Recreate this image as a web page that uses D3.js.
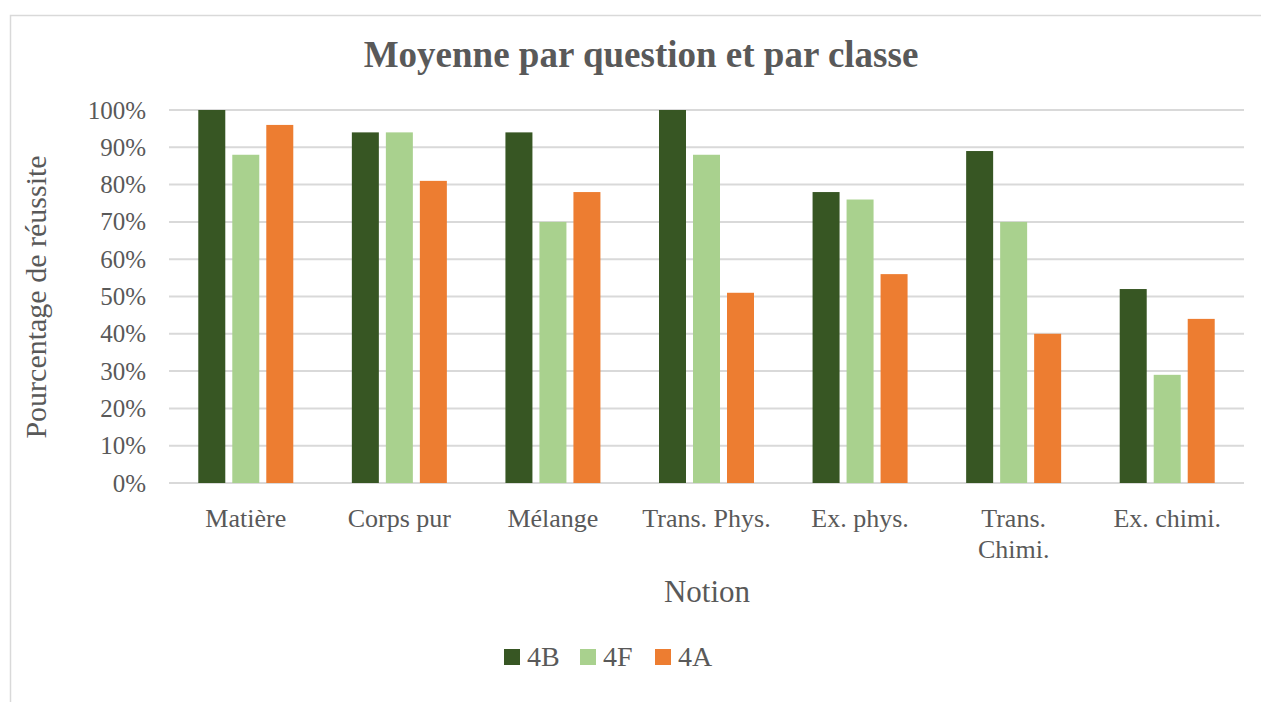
<!DOCTYPE html>
<html>
<head>
<meta charset="utf-8">
<script src="https://cdn.jsdelivr.net/npm/d3@7"></script>
<style>
  body { margin: 0; background: #fff; }
  svg text { font-family: "Liberation Serif", "DejaVu Serif", serif !important; fill: #595959; }
</style>
</head>
<body>
<div id="chart"></div>
<script>
// chart data
var categories = ['Matière', 'Corps pur', 'Mélange', 'Trans. Phys.', 'Ex. phys.', 'Trans. Chimi.', 'Ex. chimi.'];
var series = ['4B', '4F', '4A'];
var values_4B = [100, 94, 94, 100, 78, 89, 52];
var values_4F = [88, 94, 70, 88, 76, 70, 29];
var values_4A = [96, 81, 78, 51, 56, 40, 44];
var y_ticks = [0, 10, 20, 30, 40, 50, 60, 70, 80, 90, 100];
var colors = ['#375623', '#a9d18e', '#ed7d31'];

const width = 1261
const height = 702
const plot_left = 169
const plot_right = 1244
const plot_top = 110
const plot_bottom = 483

var svg = d3.select('#chart').append('svg')
  .attr('width', width)
  .attr('height', height);

// chart frame (cut by the picture edge)
svg.append('rect')
  .attr('x', 10.5)
  .attr('y', 15.5)
  .attr('width', 1300)
  .attr('height', 800)
  .attr('fill', 'none')
  .attr('stroke', '#d9d9d9')
  .attr('stroke-width', 1.5);

var x = d3.scaleBand()
  .domain(categories)
  .range([plot_left, plot_right]);

var bar_width = 27
var bar_gap = 7
var step = bar_width + bar_gap
var xs = d3.scaleBand()
  .domain(series)
  .range([-1.5 * step, 1.5 * step]);

var y = d3.scaleLinear()
  .domain([0, 100])
  .range([plot_bottom, plot_top]);

// gridlines
svg.append('g')
  .selectAll('line')
  .data(y_ticks)
  .enter()
  .append('line')
  .attr('x1', plot_left)
  .attr('x2', plot_right)
  .attr('y1', function(d){ return y(d); })
  .attr('y2', function(d){ return y(d); })
  .attr('stroke', '#d9d9d9')
  .attr('stroke-width', 2);

// y axis labels
var y_axis = d3.axisLeft(y)
  .tickValues(y_ticks)
  .tickFormat(function(d){ return d + '%'; })
  .tickSize(0)
  .tickPadding(23);

svg.append('g')
  .attr('transform', `translate(${plot_left},0)`)
  .call(y_axis)
  .call(function(g){ g.select('.domain').remove(); })
  .selectAll('text')
  .style('font-size', '25px')
  .attr('fill', '#595959');

// bars
var table = [values_4B, values_4F, values_4A];
series.forEach(function(s, si){
  svg.append('g')
    .selectAll('rect')
    .data(table[si])
    .enter()
    .append('rect')
    .attr('x', function(d, i){ return x(categories[i]) + x.bandwidth() / 2 + xs(s) + bar_gap / 2; })
    .attr('y', function(d){ return y(d); })
    .attr('width', bar_width)
    .attr('height', function(d){ return plot_bottom - y(d); })
    .attr('fill', colors[si]);
});

// x axis labels, long ones wrap
svg.append('g')
  .selectAll('text')
  .data(categories)
  .enter()
  .append('text')
  .attr('text-anchor', 'middle')
  .style('font-size', '26px')
  .each(function(d){
    var t = d3.select(this);
    var cx = x(d) + x.bandwidth() / 2;
    var lines = d === 'Trans. Chimi.' ? ['Trans.', 'Chimi.'] : [d];
    lines.forEach(function(l, li){
      t.append('tspan')
        .attr('x', cx)
        .attr('y', 527 + li * 31)
        .text(l);
    });
  });

// title
svg.append('text')
  .attr('x', 641)
  .attr('y', 67)
  .attr('text-anchor', 'middle')
  .style('font-size', '37px')
  .style('font-weight', 'bold')
  .text('Moyenne par question et par classe');

// axis titles
svg.append('text')
  .attr('transform', 'translate(46,297) rotate(-90)')
  .attr('text-anchor', 'middle')
  .style('font-size', '30px')
  .text('Pourcentage de réussite');

svg.append('text')
  .attr('x', 707)
  .attr('y', 602)
  .attr('text-anchor', 'middle')
  .style('font-size', '31px')
  .text('Notion');

// legend
var legend_x = [504, 580, 655];
series.forEach(function(s, si){
  var g = svg.append('g')
    .attr('transform', `translate(${legend_x[si]},649)`);
  g.append('rect')
    .attr('width', 16)
    .attr('height', 16)
    .attr('fill', colors[si]);
  g.append('text')
    .attr('x', 23)
    .attr('y', 17)
    .style('font-size', '28px')
    .text(s);
});
</script>
</body>
</html>
